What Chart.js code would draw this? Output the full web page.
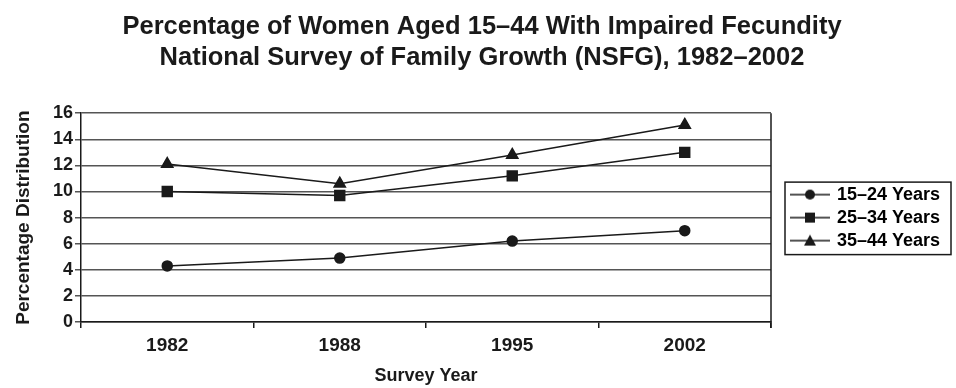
<!DOCTYPE html>
<html>
<head>
<meta charset="utf-8">
<script src="https://cdn.jsdelivr.net/npm/chart.js@4.4.0/dist/chart.umd.min.js"></script>
<style>
  html, body { margin: 0; padding: 0; background: #fff; }
  #wrap { width: 956px; height: 388px; position: relative; }
</style>
</head>
<body>
<div id="wrap"><canvas id="mycanvas"></canvas></div>
<script>
var years = ['1982', '1988', '1995', '2002'];
var age1524 = [4.3, 4.9, 6.2, 7.0];
var age2534 = [10.0, 9.7, 11.2, 13.0];
var age3544 = [12.1, 10.6, 12.8, 15.1];
var seriesNames = ['15\u201324 Years', '25\u201334 Years', '35\u201344 Years'];
var yTicks = [0, 2, 4, 6, 8, 10, 12, 14, 16];

var FONT = "'Liberation Sans', Arial, sans-serif";
var INK = '#1a1a1a';

// small line + marker pictures for the legend
function legendIcon(kind) {
	var c = document.createElement('canvas');
	c.width = 56; c.height = 14;
	var g = c.getContext('2d');
	g.strokeStyle = INK; g.fillStyle = INK; g.lineWidth = 1.5;
	g.beginPath(); g.moveTo(16, 7); g.lineTo(56, 7); g.stroke();
	g.beginPath();
	if (kind === 'circle') {
		g.arc(36, 7, 5, 0, Math.PI * 2);
	} else if (kind === 'rect') {
		g.rect(31, 2, 10, 10);
	} else {
		g.moveTo(36, 1); g.lineTo(42, 12); g.lineTo(30, 12); g.closePath();
	}
	g.fill();
	return c;
}
var icons = [legendIcon('circle'), legendIcon('rect'), legendIcon('triangle')];

var frame = {
	id: 'frame',
	beforeLayout: function(chart) {
		var lg = chart.legend;
		if (lg && !lg._fixed) {
			var fit = lg.fit;
			lg.fit = function() { fit.call(this); this.width = 185; };
			lg._fixed = true;
		}
	},
	afterDraw: function(chart) {
		var ctx = chart.ctx, a = chart.chartArea, hb = chart.legend.legendHitBoxes;
		ctx.save();
		ctx.strokeStyle = INK;
		ctx.lineWidth = 1.5;
		ctx.beginPath();
		ctx.moveTo(a.right, a.top); ctx.lineTo(a.right, a.bottom + 6);
		ctx.stroke();
		if (hb && hb.length) {
			var first = hb[0], last = hb[hb.length - 1];
			var top = first.top + first.height / 2 - 12.5;
			var bottom = last.top + last.height / 2 + 14;
			ctx.strokeRect(a.right + 14, top, 166, bottom - top);
		}
		ctx.restore();
	}
};

function ds(label, data, style, r) {
	return {
		label: label,
		data: data,
		borderColor: INK,
		backgroundColor: INK,
		borderWidth: 1.5,
		pointStyle: style,
		pointRadius: r,
		pointHoverRadius: r,
		tension: 0
	};
}

var ctx = document.getElementById('mycanvas');
var chart = new Chart(ctx, {
	type: 'line',
	data: {
		labels: years,
		datasets: [
			ds(seriesNames[0], age1524, 'circle', 5),
			ds(seriesNames[1], age2534, 'rect', 7),
			ds(seriesNames[2], age3544, 'triangle', 6.5)
		]
	},
	options: {
		responsive: true,
		maintainAspectRatio: false,
		animation: false,
		layout: { padding: { top: 0, right: 0, bottom: 0, left: 8 } },
		plugins: {
			title: {
				display: true,
				text: ['Percentage of Women Aged 15\u201344 With Impaired Fecundity',
					'National Survey of Family Growth (NSFG), 1982\u20132002'],
				color: INK,
				font: { family: FONT, size: 25.5, weight: 'bold', lineHeight: 1.22 },
				padding: { top: 11, bottom: 40 }
			},
			legend: {
				position: 'right',
				fullSize: false,
				labels: {
					usePointStyle: true,
					pointStyleWidth: 52,
					color: INK,
					padding: 5,
					font: { family: FONT, size: 18, weight: 'bold' },
					generateLabels: function(chart) {
						return chart.data.datasets.map(function(d, i) {
							return {
								text: d.label,
								pointStyle: icons[i],
								fillStyle: INK,
								strokeStyle: INK,
								lineWidth: 0,
								datasetIndex: i
							};
						});
					}
				}
			},
			tooltip: { enabled: false }
		},
		scales: {
			x: {
				offset: true,
				afterFit: function(scale) { scale.height = 66; },
				border: { display: true, color: INK, width: 1.5 },
				grid: { offset: true, drawOnChartArea: false, drawTicks: true, tickLength: 6, color: INK, lineWidth: 1.5 },
				ticks: { color: INK, padding: 6.6, font: { family: FONT, size: 19, weight: 'bold' } },
				title: { display: true, text: 'Survey Year', color: INK, padding: { top: 8, bottom: 1 },
					font: { family: FONT, size: 18, weight: 'bold' } }
			},
			y: {
				min: 0,
				max: 16,
				afterBuildTicks: function(scale) {
					scale.ticks = yTicks.map(function(v) { return { value: v }; });
				},
				afterFit: function(scale) { scale.width = 73; },
				border: { display: true, color: INK, width: 1.5 },
				grid: { color: '#555', lineWidth: 1.5, tickLength: 6 },
				ticks: { color: INK, padding: 2, font: { family: FONT, size: 18, weight: 'bold' } },
				title: { display: true, text: 'Percentage Distribution', color: INK, padding: { top: 4, bottom: 4 },
					font: { family: FONT, size: 19, weight: 'bold' } }
			}
		}
	},
	plugins: [frame]
});
</script>
</body>
</html>
